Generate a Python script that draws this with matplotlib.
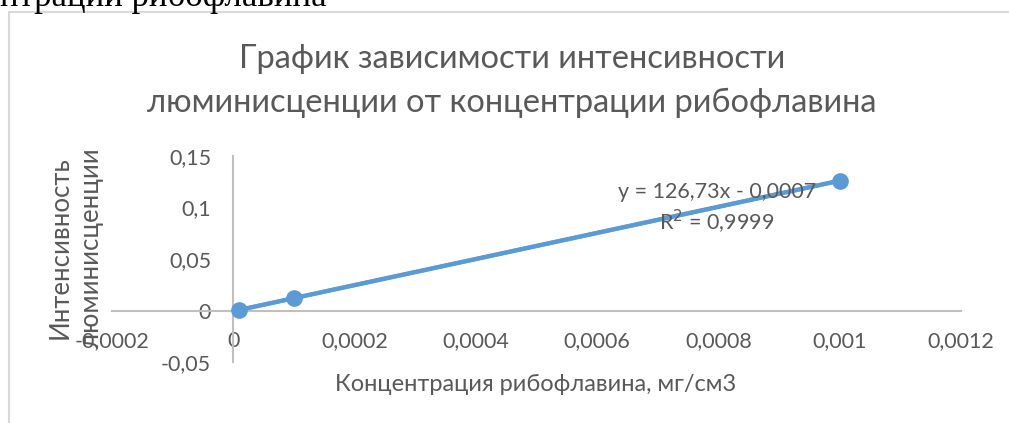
# -*- coding: utf-8 -*-
# Riboflavin luminescence calibration chart (Excel-style scatter with trendline)
import numpy as np
import matplotlib.pyplot as plt
from matplotlib.patches import Rectangle
from matplotlib.ticker import FuncFormatter

plt.rcParams['font.family'] = ['Lato', 'Open Sans', 'DejaVu Sans']

# --------------------------------------------------- data
conc = [0.00001, 0.0001, 0.001]          # mg/cm3
intensity = [0.0006, 0.012, 0.126]
slope, intercept = 126.73, -0.0007
x_ticks = [-0.0002, 0, 0.0002, 0.0004, 0.0006, 0.0008, 0.001, 0.0012]
y_ticks = [-0.05, 0, 0.05, 0.1, 0.15]

blue = '#5B9BD5'
grey_txt = '#595959'
grey_ax = '#BFBFBF'

# --------------------------------------------------- figure
fig = plt.figure(figsize=(10.09, 4.23), dpi=100)
fig.patches.append(Rectangle((9 / 1009, -0.1), 1.2, 1 - 12 / 423 + 0.1,
                             transform=fig.transFigure, fill=False,
                             edgecolor='#D9D9D9', lw=1.5))
# cut-off document text above the chart
fig.text(327 / 1009, 1 - 6 / 423, 'нтрации рибофлавина', ha='right', va='baseline',
         family=['Liberation Serif', 'DejaVu Serif'], fontsize=25, color='black')

ax = fig.add_axes([112 / 1009, 1 - 362 / 423, (961 - 112) / 1009, (362 - 156) / 423])

# series + linear trendline
ax.plot(conc, intensity, color=blue, lw=2.8, marker='o', ms=11, zorder=3)
tx = np.array([conc[0], conc[-1]])
ax.plot(tx, slope * tx + intercept, color=blue, lw=3.2, zorder=2)

ax.set_xlim(-0.0002, 0.0012)
ax.set_ylim(-0.05, 0.15)
ax.set_xticks(x_ticks)
ax.set_yticks(y_ticks)
fmt = FuncFormatter(lambda v, p: ('%g' % v).replace('.', ','))
ax.xaxis.set_major_formatter(fmt)
ax.yaxis.set_major_formatter(fmt)

for s in ['top', 'right']:
    ax.spines[s].set_visible(False)
for s in ['left', 'bottom']:
    ax.spines[s].set_position(('data', 0))
    ax.spines[s].set_color(grey_ax)
    ax.spines[s].set_linewidth(1.5)
ax.tick_params(length=0, labelsize=15.5, labelcolor=grey_txt)
ax.tick_params(axis='x', pad=15)
ax.tick_params(axis='y', pad=16)

# titles
fig.text(512 / 1009, 1 - 81 / 423,
         'График зависимости интенсивности\nлюминисценции от концентрации рибофлавина',
         ha='center', va='center', fontsize=23.5, color=grey_txt, linespacing=1.55)
fig.text(536 / 1009, 1 - 384 / 423, 'Концентрация рибофлавина, мг/см3',
         ha='center', va='center', fontsize=17, color=grey_txt)
fig.text(76 / 1009, 1 - 248 / 423, 'Интенсивность\nлюминисценции', rotation=90,
         ha='center', va='center', fontsize=18.5, color=grey_txt, linespacing=1.3)

# trendline equation
ax.text(717 / 1009, 1 - 192 / 423, 'y = 126,73x - 0,0007', transform=fig.transFigure,
        ha='center', va='center', fontsize=15.5, color=grey_txt, zorder=5)
ax.text(717 / 1009, 1 - 222 / 423, 'R$^2$ = 0,9999', transform=fig.transFigure,
        ha='center', va='center', fontsize=15.5, color=grey_txt, zorder=5)

fig.savefig('out.png', dpi=100)
